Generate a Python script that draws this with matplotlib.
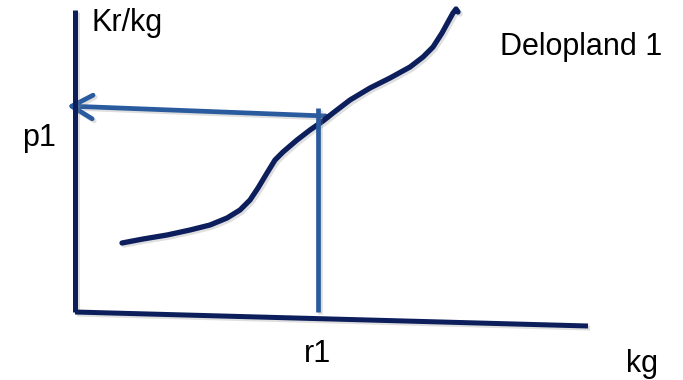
import matplotlib.pyplot as plt
import matplotlib.patheffects as pe
from matplotlib.patches import FancyArrowPatch

plt.rcParams["font.family"] = ["Liberation Sans", "DejaVu Sans"]

# diagram drawn in pixel space of the 683x380 picture (y grows downward)
curve_x = [122, 143, 167, 190, 210, 227, 240, 250, 258, 267, 275, 283, 297, 310, 323,
           333, 350, 370, 390, 410, 423, 433, 442, 448, 453, 456, 458]
curve_y = [243, 239, 235, 230, 225, 218, 210, 200, 188, 173, 160, 152, 140, 130, 121,
           113, 100, 88, 78, 67, 57, 47, 33, 22, 13, 9, 12]

yaxis_x = [75, 75]
yaxis_y = [10, 312]
xaxis_x = [75, 588]
xaxis_y = [312, 326]

r1_x = [318, 318]
r1_y = [108, 312]
p1_from = (326, 116)
p1_to = (67, 106)

labels = [
    ("Kr/kg", 92, 31),
    ("Delopland 1", 500, 55),
    ("p1", 22, 146),
    ("r1", 304, 362),
    ("kg", 626, 372),
]

navy = "#0c1f5c"
blue = "#2a5b9e"
shadow = [pe.SimpleLineShadow(offset=(1.5, -1.5), alpha=0.25, shadow_color="gray"), pe.Normal()]

fig = plt.figure(figsize=(6.83, 3.80), dpi=100)
ax = fig.add_axes([0, 0, 1, 1])
ax.set_xlim(0, 683)
ax.set_ylim(380, 0)
ax.axis("off")

ax.plot(yaxis_x, yaxis_y, color=navy, lw=3.6, solid_capstyle="butt", path_effects=shadow)
ax.plot(xaxis_x, xaxis_y, color=navy, lw=3.6, solid_capstyle="butt", path_effects=shadow)
ax.plot(curve_x, curve_y, color=navy, lw=3.8, solid_capstyle="round",
        solid_joinstyle="round", path_effects=shadow)

ax.plot(r1_x, r1_y, color=blue, lw=3.4, solid_capstyle="butt", path_effects=shadow)
arrow = FancyArrowPatch(p1_from, p1_to, arrowstyle="->,head_length=15,head_width=8.5",
                        mutation_scale=1, color=blue, lw=3.4, shrinkA=0, shrinkB=0,
                        capstyle="round", joinstyle="round", path_effects=shadow)
ax.add_patch(arrow)

for txt, x, y in labels:
    ax.text(x, y, txt, fontsize=22, ha="left", va="baseline", color="black")

fig.savefig("out.png", dpi=100)
